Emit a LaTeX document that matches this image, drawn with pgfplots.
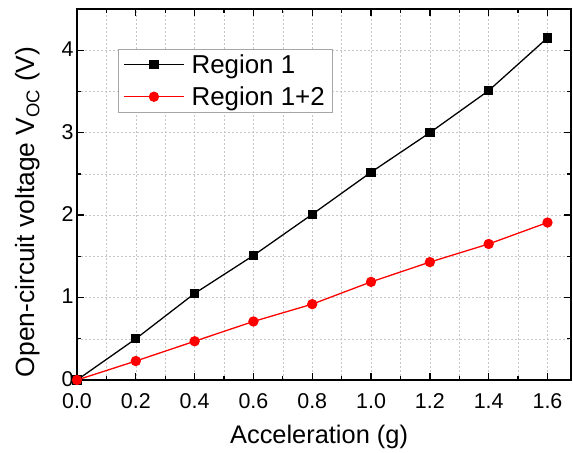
\documentclass[border=0pt]{standalone}
\usepackage{pgfplots}
\pgfplotsset{compat=1.18}
\usepackage{fontspec}
\setmainfont{Liberation Sans}
\begin{document}
\begin{tikzpicture}
\begin{axis}[
  scale only axis,
  width=494bp, height=371bp,
  xmin=0, xmax=1.68, ymin=0, ymax=4.5,
  xtick={0,0.2,...,1.6}, ytick={0,1,2,3,4},
  minor xtick={0.1,0.3,...,1.7}, minor ytick={0.5,1.5,...,4.5},
  tick align=inside, ticks=both,
  xtick pos=both, ytick pos=both,
  major tick length=7bp, minor tick length=4bp,
  tick style={black, line width=1.3pt},
  axis line style={line width=1.5pt},
  grid=both,
  major grid style={gray!45, line width=0.5pt, dash pattern=on 2pt off 2pt},
  minor grid style={gray!45, line width=0.5pt, dash pattern=on 2pt off 2pt},
  /pgf/number format/assume math mode=true,
  x tick label style={yshift=-10bp, /pgf/number format/.cd, fixed, fixed zerofill, precision=1},
  y tick label style={yshift=1bp},
  ticklabel style={font=\fontsize{21.5}{24}\selectfont},
  xlabel={Acceleration (g)},
  ylabel={Open-circuit voltage V\textsubscript{OC} (V)},
  label style={font=\fontsize{25.5}{28}\selectfont},
  xlabel style={at={(rel axis cs:0.49,0)}, anchor=base, yshift=-63bp},
  ylabel style={at={(rel axis cs:0,0.453)}, anchor=base, rotate=0, yshift=42bp, font=\fontsize{26.5}{28}\selectfont},
  legend style={at={(0.083,0.892)}, anchor=north west, draw=gray!70, line width=0.6pt,
    font=\fontsize{26}{28}\selectfont, inner xsep=5bp, inner ysep=3bp, row sep=8bp, column sep=5bp},
  legend cell align=left,
  legend image code/.code={\draw[mark repeat=2,mark phase=2, line width=1.3pt] plot coordinates {(0bp,0bp) (30bp,0bp) (60bp,0bp)};},
  clip=false,
]
\addplot[black, line width=1.3pt, mark=square*, mark size=4bp] coordinates {
 (0,0) (0.2,0.50) (0.4,1.05) (0.6,1.51) (0.8,2.01) (1.0,2.52) (1.2,3.00) (1.4,3.51) (1.6,4.15)};
\addlegendentry{Region 1}
\addplot[red, line width=1.3pt, mark=*, mark size=4.5bp] coordinates {
 (0,0) (0.2,0.23) (0.4,0.47) (0.6,0.71) (0.8,0.92) (1.0,1.19) (1.2,1.43) (1.4,1.65) (1.6,1.91)};
\addlegendentry{Region 1+2}
\end{axis}
\path (current axis.south west) ++(-77bp,-73bp) coordinate (bbA);
\path (current axis.north east) ++(2bp,9bp) coordinate (bbB);
\path (bbA) rectangle (bbB);
\end{tikzpicture}
\end{document}
